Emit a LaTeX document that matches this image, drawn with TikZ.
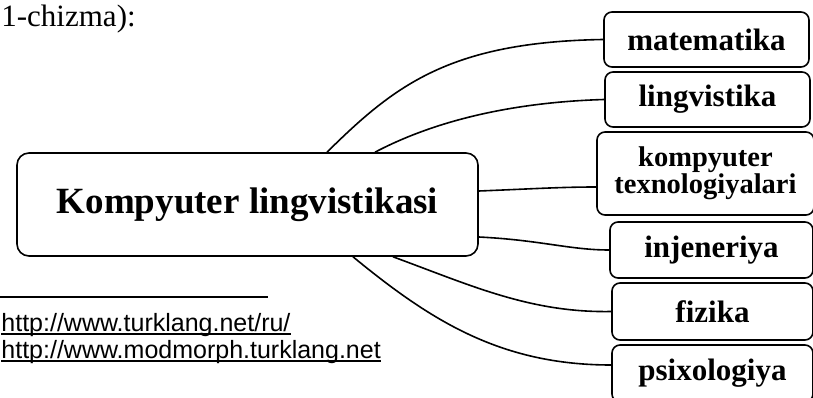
\documentclass[tikz,border=0pt]{standalone}
\usepackage{fontspec}
\setmainfont{Liberation Serif}
\newfontfamily\linkfont{Liberation Sans}
\usetikzlibrary{positioning}

\begin{document}
\begin{tikzpicture}[x=1pt,y=-1pt,thick,
    hub/.style={draw,line width=1.6pt,rounded corners=12pt,minimum width=461pt,minimum height=103pt,font=\fontsize{37}{40}\selectfont\bfseries},
    field/.style={draw,line width=1.6pt,rounded corners=8pt,minimum width=205pt,minimum height=55pt,align=center,font=\fontsize{31}{31}\selectfont\bfseries},
    link/.style={line width=1.6pt},
    url/.style={anchor=base west,inner sep=0pt,font=\fontsize{25}{25}\selectfont\linkfont}]
        \useasboundingbox (0,0) rectangle (813,398);
        \clip (0,0) rectangle (813,398);
        % centre and the six fields
        \node[hub] (kl) at (247.5,204.5) {Kompyuter lingvistikasi};
        \node[field] (mat) at (706.5,39.5) {matematika};
        \node[field] (lin) at (707.5,99.5) {lingvistika};
        \node[field,minimum width=217pt,minimum height=83pt,font=\fontsize{28.5}{27}\selectfont\bfseries] (kt) at (705.5,173.5) {kompyuter\\texnologiyalari};
        \node[field,minimum width=203pt,minimum height=56pt] (inj) at (711.5,250) {injeneriya};
        \node[field,minimum width=201pt,minimum height=57pt] (fiz) at (712.5,311.5) {fizika};
        \node[field,minimum width=201pt,minimum height=57pt] (psi) at (712.5,373.5) {psixologiya};
        \draw[link] ([xshift=79.5pt]kl.north) .. controls (395,85) and (450,42) .. (mat.west);
        \draw[link] ([xshift=127.5pt]kl.north) .. controls (440,118) and (520,102) .. (lin.west);
        \draw[link] ([yshift=13.5pt]kl.east) .. controls (530,189) and (560,187) .. ([yshift=-13.5pt]kt.west);
        \draw[link] ([yshift=-32.5pt]kl.east) .. controls (540,240) and (570,250) .. (inj.west);
        \draw[link] ([xshift=145.5pt]kl.south) .. controls (470,285) and (530,313) .. (fiz.west);
        \draw[link] ([xshift=105.5pt]kl.south) .. controls (430,320) and (500,365) .. ([yshift=8.5pt]psi.west);
        % caption line and footnotes
        \node[anchor=base west,inner sep=0pt,font=\fontsize{31}{31}\selectfont] (fig) at (1,27) {1-chizma):};
        \draw[line width=1.4pt] (0,297) -- (268,297);
        \node[url] (u1) at (1,331) {http://www.turklang.net/ru/};
        \node[url] (u2) at (1,358) {http://www.modmorph.turklang.net};
        \draw[line width=1.1pt] ([yshift=-3pt]u1.base west) -- ([yshift=-3pt]u1.base east);
        \draw[line width=1.1pt] ([yshift=-3pt]u2.base west) -- ([yshift=-3pt]u2.base east);
    \end{tikzpicture}
\end{document}
